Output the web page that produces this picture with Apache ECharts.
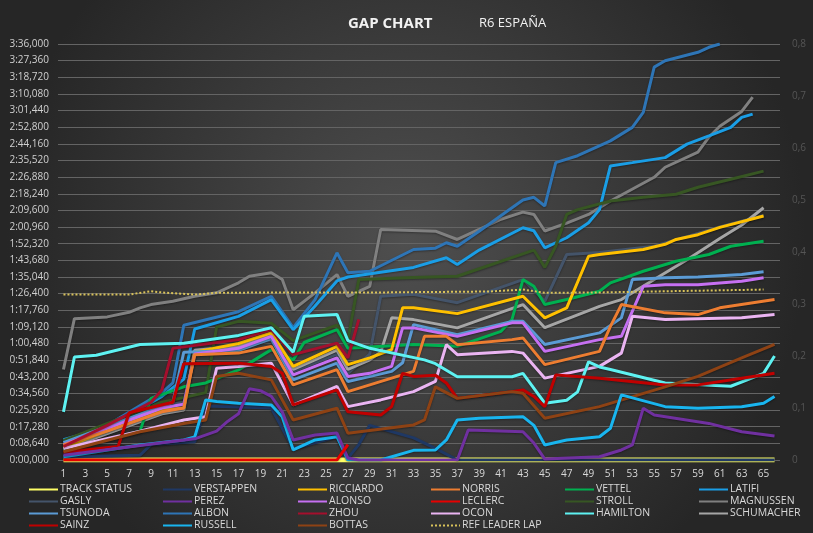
<!DOCTYPE html>
<html>
<head>
<meta charset="utf-8">
<script src="https://cdn.jsdelivr.net/npm/echarts@6/dist/echarts.min.js"></script>
<style>
  html, body { margin: 0; padding: 0; background: #2b2b2b; }
  #main { width: 813px; height: 533px; }
</style>
</head>
<body>
<div id="main"></div>
<script>
// laps 1..66
const laps = [];
for (let i = 1; i <= 66; i++) laps.push(String(i));

// gap in seconds, [lap, gap]
const trackStatus = [[1, 0], [66, 0]];
const verstappen = [[1,1.5],[8,2.5],[9,8],[13,9.5],[14,28],[20,27],[22,6],[26,12],[27,1],[28,8],[29,18],[33,11.5],[35,6],[37,0],[66,0]];
const ricciardo = [[1,6.5],[10,26],[12,27],[13,56],[17,60.5],[20,66],[22,48.6],[26,59],[27,49.5],[29,53],[31,57.3],[32,79],[33,79],[37,76],[43,85],[45,73.8],[47,79],[49,105.8],[50,106.7],[54,109.3],[56,112],[57,114.5],[59,117],[61,120.8],[65,126.7]];
const norris = [[1,7.8],[5,15],[10,25],[12,27],[13,54.7],[17,55.5],[20,59],[22,39],[26,46.9],[27,35.5],[33,46],[34,64.2],[36,64.2],[37,59.9],[42,62.5],[43,63.4],[45,49.5],[50,56.4],[51,69.4],[52,80.7],[56,76.4],[59,75.5],[61,79],[66,83.3]];
const vettel = [[1,5],[8,15],[9,32],[12,38],[14,40],[17,46.8],[20,57.3],[22,52],[23,61],[26,67.7],[27,58],[33,60],[37,59],[41,66.8],[42,72.9],[43,93.7],[44,90.2],[45,80.7],[47,83.3],[50,87.6],[51,92],[54,98],[57,103.2],[60,106.7],[62,111],[65,113.6]];
const latifi = [[1,10.5],[5,17],[10,33],[12,42],[13,68],[17,74.6],[20,83.3],[22,67.7],[24,80],[26,93],[27,95],[33,100],[36,105],[37,101.5],[39,109],[43,120.6],[44,119],[45,110.2],[47,115.4],[49,123.2],[50,130],[51,152.7],[53,154.4],[56,157],[58,164],[60,168.3],[62,172.7],[63,177.9],[64,179.6]];
const gasly = [[1,9.5],[10,28],[12,30],[13,57],[17,60],[20,62],[22,46],[26,55],[27,45],[29,55],[30,85],[33,86],[37,81.7],[43,93.7],[45,82.4],[47,106.7],[50,107.7],[55,111],[58,116],[61,121],[65,127]];
const perez = [[1,2.5],[10,9],[13,11],[15,15],[16,20],[17,24],[18,37],[19,36],[20,33],[21,25],[22,10.4],[24,13],[26,14],[27,1],[28,0],[37,0],[38,15.6],[43,14.7],[44,8.8],[45,0.5],[50,1.7],[52,5.2],[53,7.8],[54,26.9],[55,23.4],[60,19],[63,14.7],[66,12.5]];
const alonso = [[1,8],[10,27],[12,29],[13,55],[17,58],[20,64.2],[22,44.2],[26,53],[27,43.4],[29,45],[31,48.6],[32,68.6],[33,68.6],[37,64.2],[42,71.2],[43,71.2],[45,56.4],[50,62.5],[52,64.2],[54,90.2],[56,91],[59,91],[63,92.8],[65,94.6]];
const leclerc = [[1,0],[26,0],[27,8]];
const stroll = [[1,10],[10,30],[14,35],[15,69],[17,72],[20,71],[22,62],[26,70],[27,62],[28,93.7],[33,94.7],[37,95.4],[44,109],[45,100],[46,111],[47,127.5],[48,130],[51,134.5],[54,136.4],[57,138],[59,141.6],[62,145.8],[65,150]];
const magnussen = [[1,47],[2,73.4],[5,74.3],[7,76.7],[8,79],[9,80.7],[11,82.4],[13,85],[15,86.8],[16,89.4],[17,92],[18,95.4],[20,97.2],[21,93.7],[22,78],[24,86.8],[26,96.3],[27,85],[29,90.2],[30,119.7],[35,118.8],[37,114.5],[39,119.7],[41,125],[43,128.7],[44,127.5],[45,118.9],[47,123],[49,127.5],[51,134.5],[55,146.8],[56,152],[59,159.8],[60,167.6],[61,173.3],[63,181],[64,188.4]];
const tsunoda = [[1,9],[10,28],[11,30],[12,56],[17,57],[20,63],[22,41.6],[26,50.3],[27,40.8],[31,46],[32,50.5],[33,70.3],[37,65],[42,72],[43,72],[45,60],[50,66],[52,73.8],[53,93.7],[56,94.6],[59,95],[63,96.3],[65,97.7]];
const albon = [[1,8.5],[5,18],[10,35],[11,40],[12,70],[17,77],[20,85],[22,68.7],[24,83.3],[26,107.6],[27,97.2],[29,98],[33,109.3],[35,110],[36,112.8],[37,111],[39,118.8],[42,131],[43,135],[44,136.4],[45,131.9],[46,154.4],[48,158],[51,165.7],[53,172.7],[54,180.5],[55,204],[56,207.3],[59,211.7],[60,214.3],[61,216]];
const zhou = [[1,7],[5,18],[9,30],[10,36.4],[11,58],[17,62.5],[20,67.7],[22,54.7],[26,60.7],[27,53],[28,73]];
const ocon = [[1,6],[8,15],[12,20.8],[14,22.5],[15,47.7],[17,48.6],[20,50.3],[22,28.6],[26,38.2],[27,27.7],[30,31.2],[33,35.5],[35,40.8],[36,59.9],[37,54.7],[42,56.4],[43,55.5],[45,42.5],[50,48.6],[52,55.5],[53,74.6],[56,72.9],[63,73.8],[66,75.5]];
const hamilton = [[1,25],[2,53.5],[4,54.4],[8,60],[12,60.6],[17,64.7],[20,68.7],[22,56],[23,74.6],[26,75.6],[27,62],[29,58],[34,52],[35,50],[37,43.2],[42,43.2],[43,45],[45,29.5],[47,31],[48,35.4],[49,51],[50,48.3],[51,47],[56,40],[62,38.3],[65,45],[66,54]];
const schumacher = [[1,5.5],[10,24],[12,26],[13,57],[17,59],[20,65],[22,47],[26,57],[27,47],[29,52],[30,56],[31,73.8],[33,72.9],[37,68.6],[43,80.7],[45,68.7],[50,79.8],[52,83.3],[55,93.7],[58,104],[61,115],[63,122],[65,131]];
const sainz = [[1,4],[6,7],[7,24.5],[11,30],[12,50],[17,50.3],[20,48.6],[21,45],[22,28.6],[26,36.4],[27,25],[30,23.4],[31,27.7],[32,45],[33,43.4],[35,44],[36,40],[37,32],[42,35.5],[43,36.4],[44,33],[45,27.7],[46,44.2],[50,42.5],[56,39],[59,39],[63,42.5],[66,45]];
const russell = [[1,1.7],[4,4.3],[8,7.8],[12,10.4],[13,12],[14,31.2],[15,30.4],[17,29.5],[20,28.6],[21,22.5],[22,5.2],[24,10.4],[26,12.1],[27,0],[30,0],[33,5],[35,5.2],[36,10.4],[37,20.8],[39,21.7],[43,22.5],[44,18],[45,7.8],[47,10.4],[50,12.1],[51,16.5],[52,33.8],[56,27.7],[59,26.9],[63,27.7],[65,29.5],[66,33]];
const bottas = [[1,4.3],[8,14.7],[12,19],[14,20.8],[15,43.4],[17,45],[20,41.6],[22,20.8],[26,26.9],[27,13.9],[33,18.2],[34,20.8],[35,38],[37,32],[42,35.5],[43,34.7],[45,21.7],[50,27.7],[56,38],[59,43.4],[63,53],[66,60]];
const refLeaderLap = [[1,85.9],[7,85.9],[9,87.6],[10,87],[13,85.9],[15,86.8],[20,87],[30,87],[40,87.5],[43,88.5],[45,86.8],[50,87],[55,87.5],[60,88],[65,88.5]];

const legendCols = [
  ['TRACK STATUS', 'GASLY', 'TSUNODA', 'SAINZ'],
  ['VERSTAPPEN', 'PEREZ', 'ALBON', 'RUSSELL'],
  ['RICCIARDO', 'ALONSO', 'ZHOU', 'BOTTAS'],
  ['NORRIS', 'LECLERC', 'OCON', 'REF LEADER LAP'],
  ['VETTEL', 'STROLL', 'HAMILTON'],
  ['LATIFI', 'MAGNUSSEN', 'SCHUMACHER']
];
const legendLeft = [28, 162, 297, 430, 564, 698];

function gapLabel(v) {
  const ms = Math.round(v * 1000);
  const m = Math.floor(ms / 60000);
  const s = Math.floor((ms % 60000) / 1000);
  const f = ms % 1000;
  return m + ':' + String(s).padStart(2, '0') + ',' + String(f).padStart(3, '0');
}

function line(name, color, pts, extra) {
  return Object.assign({
    name: name,
    type: 'line',
    data: pts.map(p => [String(p[0]), p[1]]),
    symbol: 'none',
    lineStyle: { color: color, width: 3, shadowColor: 'rgba(0,0,0,0.35)', shadowBlur: 2, shadowOffsetY: 1 },
    itemStyle: { color: color },
    emphasis: { disabled: true }
  }, extra || {});
}

const chart = echarts.init(document.getElementById('main'));
chart.setOption({
  animation: false,
  backgroundColor: {
    type: 'radial', x: 0.5, y: 0.45, r: 0.75,
    colorStops: [{ offset: 0, color: '#4f4f4f' }, { offset: 1, color: '#262626' }]
  },
  textStyle: { fontFamily: 'Open Sans' },
  title: [
    { text: 'GAP CHART', left: 343, top: 11, textStyle: { color: '#f2f2f2', fontSize: 15, fontWeight: 'bold', fontFamily: 'Open Sans' } },
    { text: 'R6 ESPAÑA', left: 474, top: 12, textStyle: { color: '#f2f2f2', fontSize: 13, fontWeight: 'normal', fontFamily: 'Open Sans' } }
  ],
  legend: legendCols.map((col, i) => ({
    data: col,
    orient: 'vertical',
    left: legendLeft[i],
    top: 484,
    padding: 0,
    itemWidth: 29,
    itemHeight: 8,
    itemGap: 1,
    selectedMode: false,
    itemStyle: { opacity: 0 },
    textStyle: { color: '#d9d9d9', fontSize: 10.5, lineHeight: 11, fontFamily: 'Open Sans', padding: [0, 0, 0, -3] }
  })),
  grid: { left: 58, right: 33, top: 44, bottom: 73 },
  xAxis: {
    type: 'category',
    data: laps,
    boundaryGap: true,
    axisLine: { show: false },
    axisTick: { show: false },
    axisLabel: { interval: 1, color: '#d9d9d9', fontSize: 10, margin: 9 },
    splitLine: { show: false }
  },
  yAxis: [
    {
      type: 'value', min: 0, max: 216, interval: 8.64,
      axisLine: { show: false }, axisTick: { show: false },
      axisLabel: { color: '#d0d0d0', fontSize: 10, margin: 9, formatter: gapLabel },
      splitLine: { lineStyle: { color: '#646464', width: 1 } }
    },
    {
      type: 'value', min: 0, max: 0.8, interval: 0.1, position: 'right',
      axisLine: { show: false }, axisTick: { show: false },
      axisLabel: { color: '#555555', fontSize: 10, margin: 12,
        formatter: v => v === 0 ? '0' : v.toFixed(1).replace('.', ',') },
      splitLine: { show: false }
    }
  ],
  series: [
    line('TRACK STATUS', '#ffff66', trackStatus, { yAxisIndex: 1, lineStyle: { color: '#ffff66', width: 5 } }),
    line('VERSTAPPEN', '#1f3864', verstappen),
    line('GASLY', '#44546a', gasly),
    line('MAGNUSSEN', '#808080', magnussen),
    line('SCHUMACHER', '#a6a6a6', schumacher),
    line('ALBON', '#2e75b6', albon),
    line('LATIFI', '#1a9ee6', latifi),
    line('STROLL', '#375623', stroll),
    line('VETTEL', '#00b050', vettel),
    line('RICCIARDO', '#ffc000', ricciardo),
    line('TSUNODA', '#5b9bd5', tsunoda),
    line('ALONSO', '#c670f2', alonso),
    line('NORRIS', '#ed7d31', norris),
    line('OCON', '#eab4f2', ocon),
    line('ZHOU', '#a50f2d', zhou),
    line('HAMILTON', '#5ef2f2', hamilton),
    line('SAINZ', '#c00000', sainz),
    line('BOTTAS', '#8e4214', bottas),
    line('RUSSELL', '#19b5ef', russell),
    line('PEREZ', '#7030a0', perez),
    line('LECLERC', '#e60000', leclerc),
    line('REF LEADER LAP', '#d8c25a', refLeaderLap, { lineStyle: { color: '#d8c25a', width: 2, type: 'dotted' } })
  ]
});
</script>
</body>
</html>
